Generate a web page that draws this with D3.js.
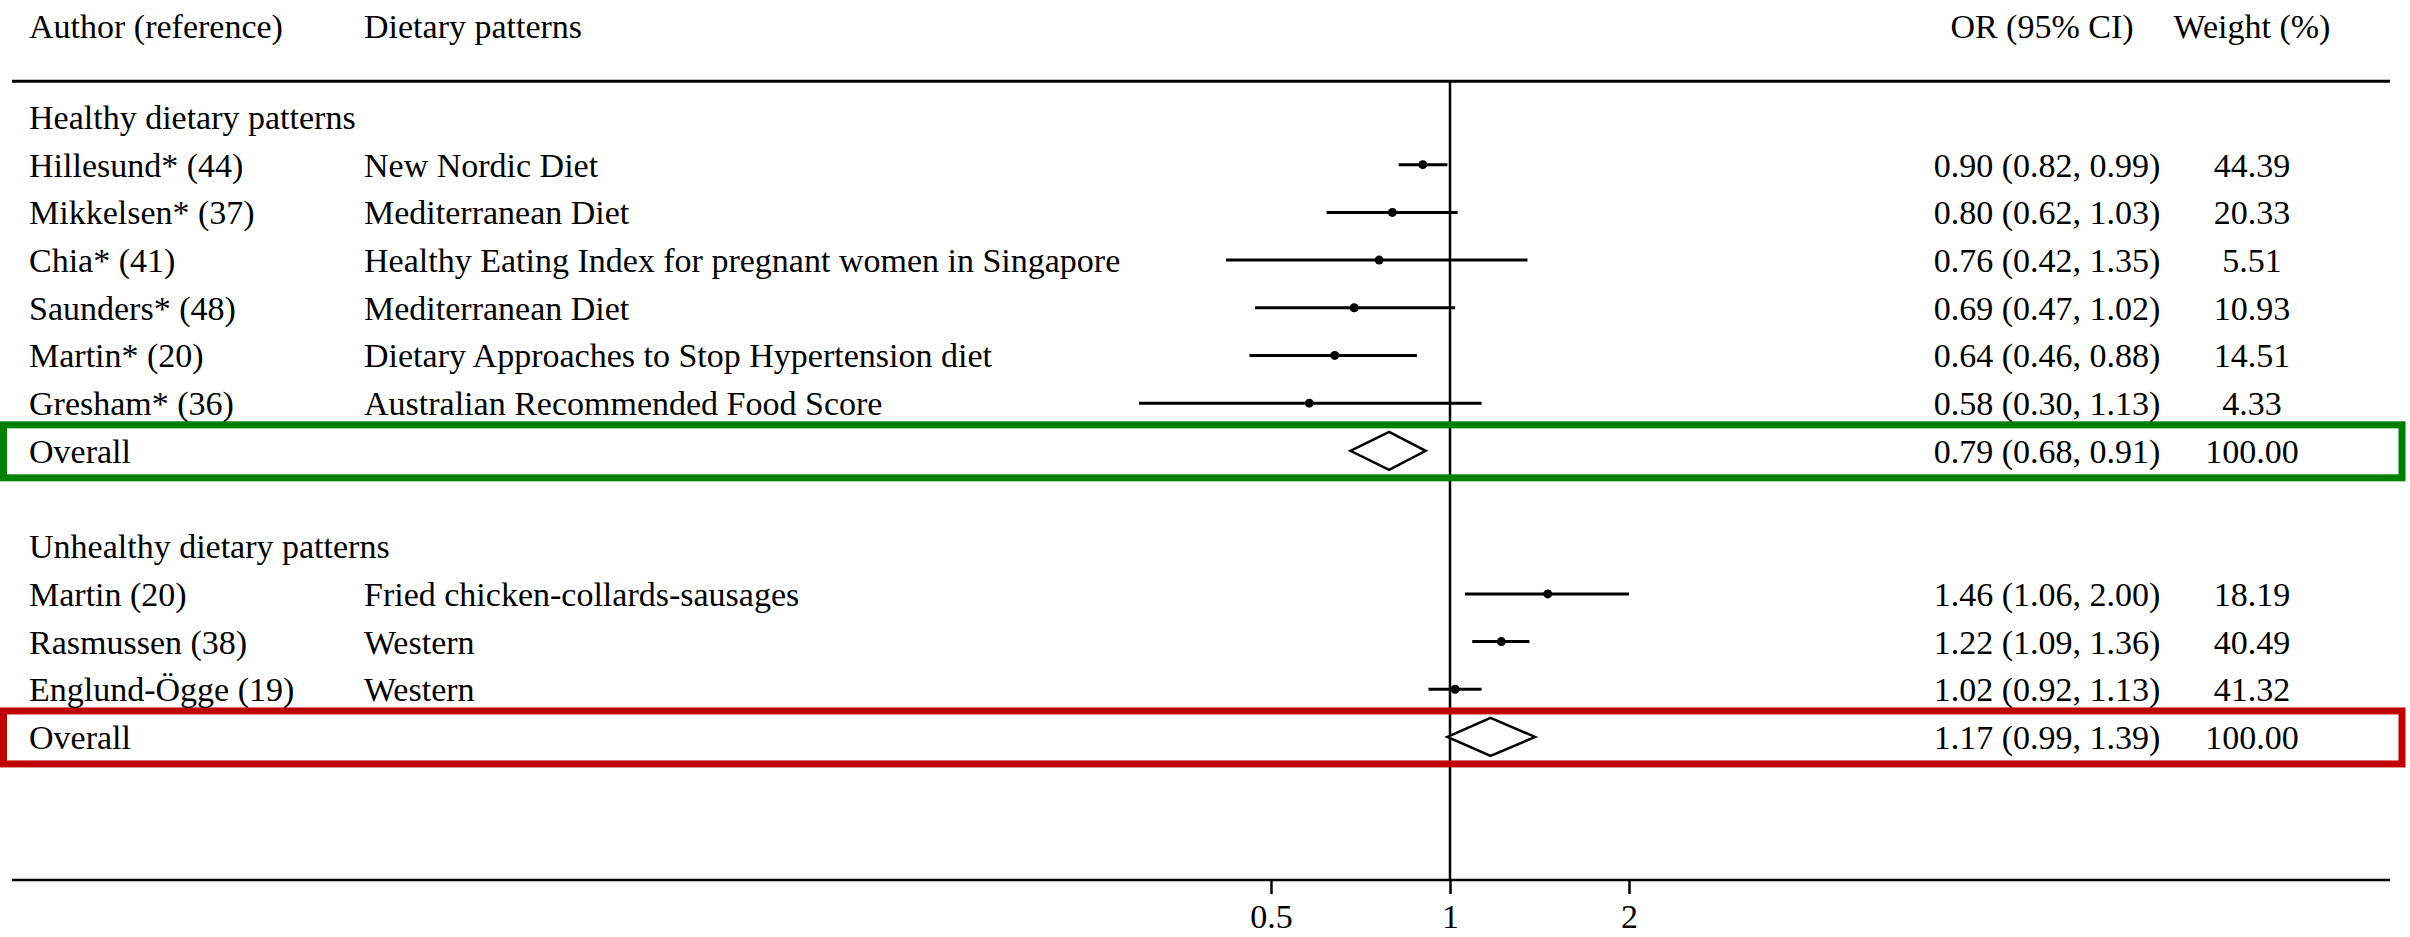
<!DOCTYPE html>
<html><head><meta charset="utf-8">
<script src="https://cdn.jsdelivr.net/npm/d3@7"></script>
<style>html,body{margin:0;padding:0;background:#fff;}svg{display:block;}</style>
</head><body>
<svg id="chart" width="2410" height="937"></svg>
<script>
// ---- data ----
const headers = ["Author (reference)", "Dietary patterns", "OR (95% CI)", "Weight (%)"];
const groupTitles = ["Healthy dietary patterns", "Unhealthy dietary patterns"];
const healthyAuthors = ["Hillesund* (44)", "Mikkelsen* (37)", "Chia* (41)", "Saunders* (48)", "Martin* (20)", "Gresham* (36)"];
const healthyPatterns = ["New Nordic Diet", "Mediterranean Diet", "Healthy Eating Index for pregnant women in Singapore", "Mediterranean Diet", "Dietary Approaches to Stop Hypertension diet", "Australian Recommended Food Score"];
const healthyOR = [0.90, 0.80, 0.76, 0.69, 0.64, 0.58];
const healthyLo = [0.82, 0.62, 0.42, 0.47, 0.46, 0.30];
const healthyHi = [0.99, 1.03, 1.35, 1.02, 0.88, 1.13];
const healthyW = ["44.39", "20.33", "5.51", "10.93", "14.51", "4.33"];
const healthyOverall = {or: 0.79, lo: 0.68, hi: 0.91, w: "100.00"};
const unhealthyAuthors = ["Martin (20)", "Rasmussen (38)", "Englund-Ögge (19)"];
const unhealthyPatterns = ["Fried chicken-collards-sausages", "Western", "Western"];
const unhealthyOR = [1.46, 1.22, 1.02];
const unhealthyLo = [1.06, 1.09, 0.92];
const unhealthyHi = [2.00, 1.36, 1.13];
const unhealthyW = ["18.19", "40.49", "41.32"];
const unhealthyOverall = {or: 1.17, lo: 0.99, hi: 1.39, w: "100.00"};
const tickValues = [0.5, 1, 2];
const tickLabels = ["0.5", "1", "2"];

// ---- layout ----
const W = 2410, H = 937;
const FONT = "'Liberation Serif', 'Times New Roman', serif";
const FS = 34;
const svg = d3.select("#chart");
svg.append("rect").attr("width", W).attr("height", H).attr("fill", "#fff");

const x = d3.scaleLog().domain([0.5, 2]).range([1271, 1629]);
const row = d3.scaleLinear().domain([0, 16]).range([117, 880]);
const colAuthor = 29, colPattern = 364, colOR = 2047, colORh = 2042, colW = 2252;
const lineL = 12, lineR = 2390;
const fmt = d3.format(".2f");
const ciText = (o, l, h) => `${fmt(o)} (${fmt(l)}, ${fmt(h)})`;

function txt(t, xx, yy, anchor) {
  svg.append("text").attr("x", xx).attr("y", yy + 12)
    .attr("font-family", FONT).attr("font-size", FS)
    .attr("text-anchor", anchor || "start").attr("fill", "#000").text(t);
}

// headers
const hy = 26;
txt(headers[0], colAuthor, hy);
txt(headers[1], colPattern, hy);
txt(headers[2], colORh, hy, "middle");
txt(headers[3], colW, hy, "middle");

// header line
svg.append("line").attr("x1", lineL).attr("x2", lineR).attr("y1", row(-0.75)).attr("y2", row(-0.75))
  .attr("stroke", "#000").attr("stroke-width", 3);

// null line
svg.append("line").attr("x1", x(1)).attr("x2", x(1)).attr("y1", row(-0.75)).attr("y2", row(16))
  .attr("stroke", "#000").attr("stroke-width", 2.5);

// highlight boxes
const boxes = [{k: 7, c: "#008000"}, {k: 13, c: "#c00000"}];
boxes.forEach(b => {
  svg.append("rect").attr("x", 3.5).attr("width", 2398.5)
    .attr("y", row(b.k) - 26).attr("height", 53)
    .attr("fill", "none").attr("stroke", b.c).attr("stroke-width", 7);
});

function studies(authors, patterns, or, lo, hi, w, k0) {
  authors.forEach((a, i) => {
    const y = row(k0 + i);
    txt(a, colAuthor, y);
    txt(patterns[i], colPattern, y);
    txt(ciText(or[i], lo[i], hi[i]), colOR, y, "middle");
    txt(w[i], colW, y, "middle");
    svg.append("line").attr("x1", x(lo[i])).attr("x2", x(hi[i])).attr("y1", y).attr("y2", y)
      .attr("stroke", "#000").attr("stroke-width", 3);
    svg.append("circle").attr("cx", x(or[i])).attr("cy", y).attr("r", 4.5).attr("fill", "#000");
  });
}
function overall(o, k) {
  const y = row(k);
  txt("Overall", colAuthor, y);
  txt(ciText(o.or, o.lo, o.hi), colOR, y, "middle");
  txt(o.w, colW, y, "middle");
  const pts = [[x(o.lo), y], [x(o.or), y - 19], [x(o.hi), y], [x(o.or), y + 19]];
  svg.append("path").attr("d", d3.line()(pts) + "Z")
    .attr("fill", "#fff").attr("stroke", "#000").attr("stroke-width", 2.5);
}

txt(groupTitles[0], colAuthor, row(0));
studies(healthyAuthors, healthyPatterns, healthyOR, healthyLo, healthyHi, healthyW, 1);
overall(healthyOverall, 7);
txt(groupTitles[1], colAuthor, row(9));
studies(unhealthyAuthors, unhealthyPatterns, unhealthyOR, unhealthyLo, unhealthyHi, unhealthyW, 10);
overall(unhealthyOverall, 13);

// x axis
svg.append("line").attr("x1", lineL).attr("x2", lineR).attr("y1", row(16)).attr("y2", row(16))
  .attr("stroke", "#000").attr("stroke-width", 2.5);
const axis = d3.axisBottom(x).tickValues(tickValues).tickFormat((d, i) => tickLabels[i])
  .tickSize(14).tickPadding(10);
const g = svg.append("g").attr("transform", `translate(0,${row(16)})`).call(axis);
g.select(".domain").remove();
g.selectAll(".tick line").attr("stroke", "#000").attr("stroke-width", 2.5);
g.selectAll(".tick text").attr("font-family", FONT).attr("font-size", FS).attr("fill", "#000");
</script>
</body></html>
